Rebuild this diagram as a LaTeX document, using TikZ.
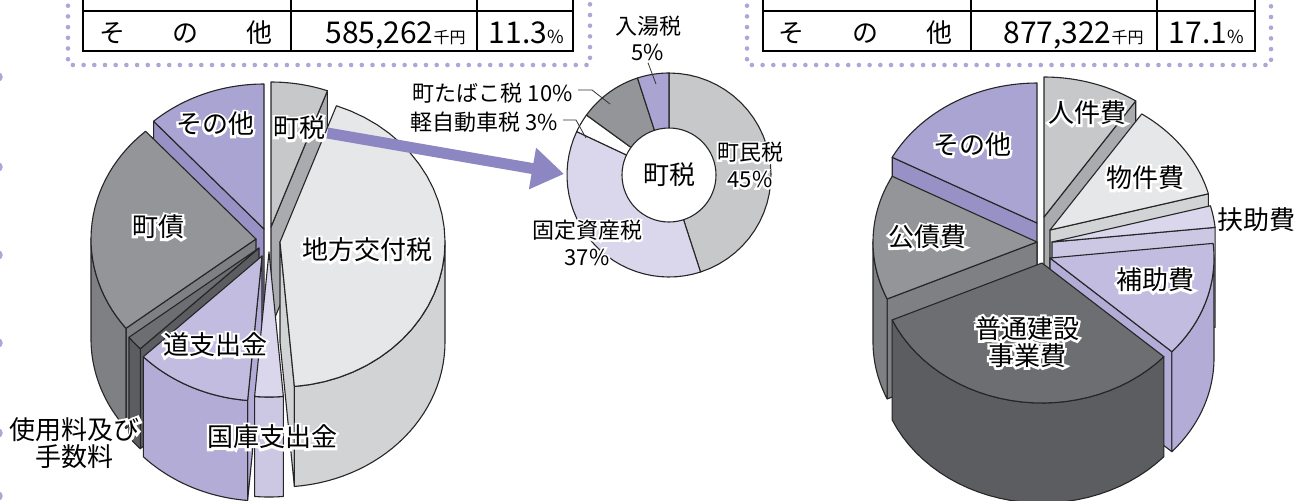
\documentclass[tikz,border=0pt]{standalone}
\usepackage{fontspec}
\setmainfont{Noto Sans CJK JP}
\newfontfamily\jp{Noto Sans CJK JP}
\newfontfamily\jphalo{Noto Sans CJK JP}[FakeBold=18]
\usetikzlibrary{arrows.meta}

\definecolor{gA}{HTML}{C7C8CA}
\definecolor{gAs}{HTML}{A9ABAE}
\definecolor{gB}{HTML}{E6E7E8}
\definecolor{gBs}{HTML}{D1D3D4}
\definecolor{gC}{HTML}{939598}
\definecolor{gCs}{HTML}{7E8083}
\definecolor{gD}{HTML}{6D6E71}
\definecolor{gDs}{HTML}{5C5D60}
\definecolor{pA}{HTML}{A9A4D2}
\definecolor{pAs}{HTML}{9891C6}
\definecolor{pB}{HTML}{C1BCE0}
\definecolor{pBs}{HTML}{B2ACD7}
\definecolor{pC}{HTML}{DAD7EC}
\definecolor{pCs}{HTML}{CCC8E4}
\definecolor{arrowc}{HTML}{8C86C2}
\definecolor{dotc}{HTML}{ACA7D6}

\newcommand{\ptop}[5]{\filldraw[pie,fill=#5] (#1,#2) -- plot[domain=#3:#4,samples=30] ({#1+\prx*cos(\x)},{#2+\pry*sin(\x)}) -- cycle;}
\newcommand{\pwall}[5]{\filldraw[pie,fill=#5] plot[domain=#3:#4,samples=30] ({#1+\prx*cos(\x)},{#2+\pry*sin(\x)}) -- plot[domain=#4:#3,samples=30] ({#1+\prx*cos(\x)},{#2+\pdep+\pry*sin(\x)}) -- cycle;}
\newcommand{\pface}[4]{\filldraw[pie,fill=#4] (#1,#2) -- ({#1+\prx*cos(#3)},{#2+\pry*sin(#3)}) -- ++(0,\pdep) -- (#1,{#2+\pdep}) -- cycle;}
\newcommand{\hlabel}[3]{\node[halo] at (#2) {#3}; \node[lbl] (#1) at (#2) {#3};}
\newcommand{\hlabelsm}[3]{\node[halosm] at (#2) {#3}; \node[lblsm] (#1) at (#2) {#3};}

\tikzset{
  pie/.style={draw=black!85,line width=0.55pt,line join=round},
  lbl/.style={font=\fontsize{13}{13.5}\jp,inner sep=0pt,align=center},
  halo/.style={lbl,font=\fontsize{13}{13.5}\jphalo,text=white},
  lblsm/.style={font=\fontsize{11}{13.5}\jp,inner sep=0pt,align=center},
  halosm/.style={lblsm,font=\fontsize{11}{13.5}\jphalo,text=white},
  sml/.style={font=\fontsize{11}{13}\jp,inner sep=0pt},
  leader/.style={draw=black!80,line width=0.4pt},
  tab/.style={font=\fontsize{13}{15}\jp,inner sep=0pt,anchor=base},
  tabnum/.style={font=\fontsize{15}{15}\jp,inner sep=0pt,anchor=base east},
  tabout/.style={line width=1.2pt},
  tabin/.style={line width=0.6pt},
  dotline/.style={draw=dotc,line width=2.3pt,line cap=round,dash pattern=on 0pt off 5.35pt},
  bigarrow/.style={draw=arrowc,line width=5.5pt,-{Triangle[length=16pt,width=20pt]}}
}

\begin{document}
\begin{tikzpicture}[x=0.5pt,y=-0.5pt]
\useasboundingbox (0,0) rectangle (1296,500);

\draw[dotline] (68,-5) -- (68,65) -- (590,65) -- (590,-5);
\draw[dotline] (747,-5) -- (747,65) -- (1271,65) -- (1271,-5);
\foreach \yy in {77,167,255,343,433,496}
  \fill[dotc] (-2,\yy) circle[radius=2.4pt];

\draw[tabout] (83,-5) -- (83,51) -- (573,51) -- (573,-5);
\draw[tabin] (83,11) -- (573,11) (291,-5) -- (291,51) (477,-5) -- (477,51);
\node[tab] (sonotaT1) at (186,42) {そ\hspace{24pt}の\hspace{24pt}他};
\node[tabnum] (valT1) at (466,43) {585,262{\fontsize{8}{8}\selectfont 千円}};
\node[tabnum] (pctT1) at (564,43) {11.3{\fontsize{9}{9}\selectfont\%}};

\draw[tabout] (763,-5) -- (763,51) -- (1255,51) -- (1255,-5);
\draw[tabin] (763,11) -- (1255,11) (971,-5) -- (971,51) (1157,-5) -- (1157,51);
\node[tab] (sonotaT2) at (865,42) {そ\hspace{24pt}の\hspace{24pt}他};
\node[tabnum] (valT2) at (1144,43) {877,322{\fontsize{8}{8}\selectfont 千円}};
\node[tabnum] (pctT2) at (1244,43) {17.1{\fontsize{9}{9}\selectfont\%}};

\def\prx{165}\def\pry{145}\def\pdep{100}
\pface{271}{227}{-70}{gAs} \ptop{271}{227}{-90}{-70}{gA}
\pface{264}{229}{228}{pAs} \ptop{264}{229}{228}{270}{pA}
\pface{256}{239}{142}{gCs} \pwall{256}{239}{142}{180}{gCs} \ptop{256}{239}{142}{228}{gC}
\pface{280}{242}{85}{gBs} \pwall{280}{242}{0}{85}{gBs} \ptop{280}{242}{-70}{85}{gB}
\pface{259}{248}{136}{gDs} \pwall{259}{248}{136}{142}{gDs} \ptop{259}{248}{136}{142}{gD}
\pface{262}{256}{95}{pBs} \pwall{262}{256}{95}{136}{pBs} \ptop{262}{256}{95}{136}{pB}
\pwall{269}{252}{85}{95}{pCs} \ptop{269}{252}{85}{95}{pC}

\hlabel{sonotaL}{215,124}{その他}
\hlabel{choL}{299,128}{町税}
\hlabel{chosaiL}{158,227}{町債}
\hlabel{chihoL}{367,250}{地方交付税}
\hlabel{doL}{215,345}{道支出金}
\hlabel{kokoL}{272,437}{国庫支出金}
\hlabel{shiyoL}{75,443}{使用料及び\\手数料}

\coordinate (arrowtip) at (564,174);
\draw[bigarrow] ([shift={(2,5)}]choL.east) -- (arrowtip);

\def\prx{102}\def\pry{102}
\ptop{669}{175}{-90}{72}{gA}
\ptop{669}{175}{72}{205.2}{pC}
\ptop{669}{175}{205.2}{216}{white}
\ptop{669}{175}{216}{252}{gC}
\ptop{669}{175}{252}{270}{pA}
\node[circle,draw=black!85,line width=0.55pt,fill=white,minimum size=47pt,inner sep=0pt,font=\fontsize{13}{15}\jp] (donut) at (669,175) {町税};

\node[sml,align=center] (nyuto) at (648,38) {入湯税\\5\%};
\coordinate (nyutoin) at (656,84);
\draw[leader] ([yshift=-1pt]nyuto.south) -- (nyutoin);
\node[sml,anchor=east] (tabako) at (573,93) {町たばこ税 10\%};
\coordinate (tabakoin) at (610,104);
\draw[leader] ([xshift=2.5pt,yshift=1.5pt]tabako.east) -- ++(14,0) -- (tabakoin);
\node[sml,anchor=east] (keiji) at (558,122) {軽自動車税 3\%};
\coordinate (keijiin) at (586,138);
\draw[leader] ([xshift=2.5pt,yshift=1pt]keiji.east) -- ++(13,0) -- (keijiin);
\hlabelsm{chomin}{750,165}{町民税\\45\%}
\hlabelsm{kotei}{587,243}{固定資産税\\37\%}

\def\prx{164}\def\pry{140}\def\pdep{100}
\pface{1044}{217}{-56}{gAs} \ptop{1044}{217}{-90}{-56}{gA}
\pface{1037}{223}{208}{pAs} \ptop{1037}{223}{208}{270}{pA}
\pface{1050}{230}{-15}{gBs} \ptop{1050}{230}{-56}{-15}{gB}
\pface{1052}{242}{-6}{pCs} \ptop{1052}{242}{-15}{-6}{pC}
\pface{1037}{242}{156}{gCs} \pwall{1037}{242}{156}{180}{gCs} \ptop{1037}{242}{156}{208}{gC}
\pface{1050}{258}{42}{pBs} \pwall{1050}{258}{0}{42}{pBs} \ptop{1050}{258}{-6}{42}{pB}
\pwall{1042}{263}{42}{156}{gDs} \ptop{1042}{263}{42}{156}{gD}

\hlabel{jinkenR}{1087,113}{人件費}
\hlabel{bukkenR}{1145,178}{物件費}
\node[lbl] (fujoR) at (1256,220) {扶助費};
\hlabel{hojoR}{1155,280}{補助費}
\hlabel{futsuR}{1027,342}{普通建設\\事業費}
\hlabel{kosaiR}{927,237}{公債費}
\hlabel{sonotaR}{972,145}{その他}
\end{tikzpicture}
\end{document}
